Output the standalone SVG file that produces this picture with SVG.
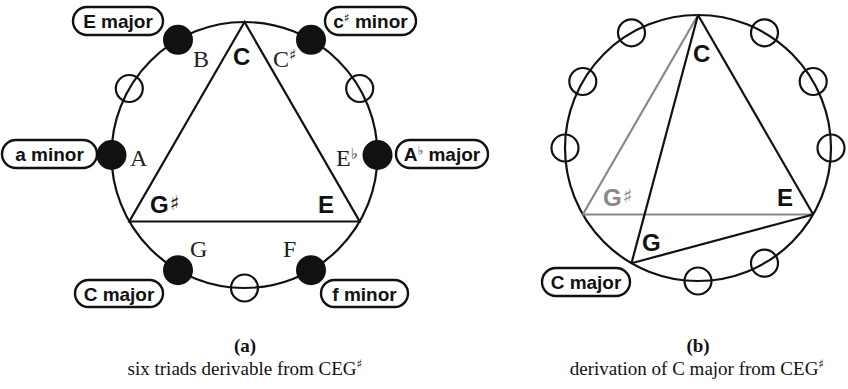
<svg xmlns="http://www.w3.org/2000/svg" width="848" height="389" viewBox="0 0 848 389">
<style>
.ring{fill:none;stroke:#111;stroke-width:2.2}
.dot{fill:#111;stroke:#111;stroke-width:2}
.open{fill:none;stroke:#111;stroke-width:2.2}
.ln{stroke:#111;stroke-width:2.2;fill:none}
.gl{stroke:#888;stroke-width:2.2;fill:none}
.box{fill:#fff;stroke:#111;stroke-width:2.4}
.lab{font-family:"Liberation Sans",Arial,sans-serif;font-weight:bold;font-size:19px;fill:#111;text-anchor:middle}
.big{font-family:"Liberation Sans",Arial,sans-serif;font-weight:bold;font-size:24px;fill:#111}
.ser{font-family:"Liberation Serif","Times New Roman",serif;font-size:24px;fill:#222}
.cap{font-family:"Liberation Serif","Times New Roman",serif;font-size:19px;fill:#111;text-anchor:middle}
.sym{font-family:"DejaVu Sans",sans-serif;font-weight:normal}
</style>

<!-- Diagram (a) -->
<g id="circle-a"><circle class="ring" cx="244.5" cy="155" r="133"/></g>
<g id="connectors-a">
<polygon class="ln" points="244.5,22 129.3,221.5 359.7,221.5"/>
</g>
<g id="open-a">
<circle class="open" cx="359.7" cy="88.5" r="13.5"/>
<circle class="open" cx="129.3" cy="88.5" r="13.5"/>
<circle class="open" cx="244.5" cy="288" r="13.5"/>
</g>
<g id="dot-B"><circle class="dot" cx="178" cy="39.8" r="14"/><text class="ser" x="193" y="67">B</text></g>
<g id="dot-Cs"><circle class="dot" cx="311" cy="39.8" r="14"/><text class="ser" x="273" y="67">C<tspan class="sym" font-size="15" dy="-7">♯</tspan></text></g>
<g id="dot-A"><circle class="dot" cx="111.5" cy="155" r="14"/><text class="ser" x="130" y="166">A</text></g>
<g id="dot-Eb"><circle class="dot" cx="377.5" cy="155" r="14"/><text class="ser" x="336" y="166">E<tspan class="sym" font-size="15" dy="-7">♭</tspan></text></g>
<g id="dot-G"><circle class="dot" cx="178" cy="270.2" r="14"/><text class="ser" x="190" y="257">G</text></g>
<g id="dot-F"><circle class="dot" cx="311" cy="270.2" r="14"/><text class="ser" x="283" y="257">F</text></g>
<g id="vertex-C-a"><text class="big" x="233" y="65">C</text></g>
<g id="vertex-Gs-a"><text class="big" x="150" y="213">G<tspan class="sym" font-size="20" dx="1" dy="-3">♯</tspan></text></g>
<g id="vertex-E-a"><text class="big" x="318" y="213">E</text></g>

<g id="label-Emajor"><rect class="box" x="73" y="7" width="90" height="28" rx="14"/><text class="lab" x="118" y="28">E major</text></g>
<g id="label-csminor"><rect class="box" x="325" y="7" width="91" height="28" rx="14"/><text class="lab" x="370.5" y="28">c<tspan class="sym" font-size="12" dy="-6">♯</tspan><tspan dy="6"> minor</tspan></text></g>
<g id="label-aminor"><rect class="box" x="2" y="140" width="95" height="28" rx="14"/><text class="lab" x="49.5" y="161">a minor</text></g>
<g id="label-Abmajor"><rect class="box" x="396" y="140" width="92" height="28" rx="14"/><text class="lab" x="442" y="161">A<tspan class="sym" font-size="12" dy="-6">♭</tspan><tspan dy="6"> major</tspan></text></g>
<g id="label-Cmajor-a"><rect class="box" x="75" y="280" width="88" height="27" rx="13.5"/><text class="lab" x="119" y="300.5">C major</text></g>
<g id="label-fminor"><rect class="box" x="321" y="280" width="87" height="27" rx="13.5"/><text class="lab" x="364.5" y="300.5">f minor</text></g>

<!-- Diagram (b) -->
<g id="circle-b"><circle class="ring" cx="698" cy="148" r="133"/></g>
<g id="connectors-b">
<line class="gl" x1="698" y1="15" x2="582.8" y2="214.5"/>
<line class="gl" x1="582.8" y1="214.5" x2="813.2" y2="214.5"/>
<line class="ln" x1="698" y1="15" x2="813.2" y2="214.5"/>
<line class="ln" x1="698" y1="15" x2="631.5" y2="263.2"/>
<line class="ln" x1="631.5" y1="263.2" x2="813.2" y2="214.5"/>
</g>
<g id="open-b">
<circle class="open" cx="631.5" cy="32.8" r="13.5"/>
<circle class="open" cx="582.8" cy="81.5" r="13.5"/>
<circle class="open" cx="565" cy="148" r="13.5"/>
<circle class="open" cx="764.5" cy="32.8" r="13.5"/>
<circle class="open" cx="813.2" cy="81.5" r="13.5"/>
<circle class="open" cx="831" cy="148" r="13.5"/>
<circle class="open" cx="764.5" cy="263.2" r="13.5"/>
<circle class="open" cx="698" cy="281" r="13.5"/>
</g>
<g id="vertex-C-b"><text class="big" x="693" y="62">C</text></g>
<g id="vertex-Gs-b"><text class="big" x="603" y="206" style="fill:#888">G<tspan class="sym" font-size="20" dx="1" dy="-3">♯</tspan></text></g>
<g id="vertex-E-b"><text class="big" x="777" y="206">E</text></g>
<g id="vertex-G-b"><text class="big" x="642" y="251">G</text></g>
<g id="label-Cmajor-b"><rect class="box" x="542" y="268" width="88" height="28" rx="14"/><text class="lab" x="586" y="289">C major</text></g>

<!-- Captions -->
<g id="caption-a">
<text class="cap" x="245" y="352" font-weight="bold">(a)</text>
<text class="cap" x="245" y="375">six triads derivable from CEG<tspan class="sym" font-size="12" dy="-7">♯</tspan></text>
</g>
<g id="caption-b">
<text class="cap" x="698" y="352" font-weight="bold">(b)</text>
<text class="cap" x="697" y="375">derivation of C major from CEG<tspan class="sym" font-size="12" dy="-7">♯</tspan></text>
</g>
</svg>
